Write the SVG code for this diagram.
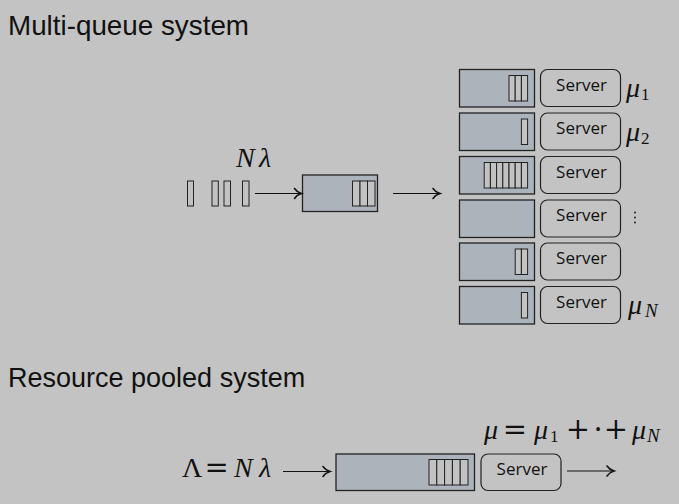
<svg xmlns="http://www.w3.org/2000/svg" width="679" height="504" viewBox="0 0 679 504">
<style>
.title{font-family:"Liberation Sans",Arial,sans-serif;font-size:27px;fill:#111}
.q{fill:#adb3ba;stroke:#222;stroke-width:1.3}
.p{fill:#c2c2c2;stroke:#222;stroke-width:1}
.srv{fill:none;stroke:#222;stroke-width:1.2}
.st{font-family:"Open Sans","Noto Sans",sans-serif;font-size:17px;fill:#111;text-anchor:middle}
.m{font-family:"Liberation Serif","Times New Roman",serif;font-size:28px;fill:#111}
.mi{font-style:italic}
.op{font-family:"DejaVu Serif",serif;font-size:29px;text-anchor:middle;font-style:normal}
.sub{font-size:17px}
.subN{font-size:19px;font-style:italic}
.conn line{stroke:#111;stroke-width:1.2;marker-end:url(#to)}
</style>
<defs>
<marker id="to" markerUnits="userSpaceOnUse" markerWidth="16" markerHeight="16" refX="0" refY="0" viewBox="-8 -8 16 16" orient="auto" overflow="visible">
<path d="M-7,-5 C-5.2,-2.2 -2.4,-0.7 0,0 C-2.4,0.7 -5.2,2.2 -7,5" fill="none" stroke="#111" stroke-width="1.5" stroke-linecap="round"/>
</marker>
</defs>
<rect width="679" height="504" fill="#c3c3c3"/>
<text class="title" x="8" y="35" style="font-size:27.8px">Multi-queue system</text>
<text class="title" x="8" y="387">Resource pooled system</text>

<g id="arrivals">
<rect class="p" x="187.5" y="181" width="6" height="25"/>
<rect class="p" x="212" y="181" width="6.3" height="25"/>
<rect class="p" x="224" y="181" width="6.5" height="25"/>
<rect class="p" x="242.5" y="181" width="6.5" height="25"/>
</g>
<text class="m mi" x="236" y="167">N<tspan x="259">λ</tspan></text>

<g id="dispatcher">
<rect class="q" x="302.5" y="175" width="75" height="36.5"/>
<rect class="p" x="352.5" y="181" width="7.5" height="25"/>
<rect class="p" x="360" y="181" width="7.5" height="25"/>
<rect class="p" x="367.5" y="181" width="7.5" height="25"/>
</g>

<g id="queue1">
<rect class="q" x="459.5" y="69.5" width="75" height="37.5"/>
<rect class="p" x="509" y="75.5" width="6.2" height="25.5"/>
<rect class="p" x="515.2" y="75.5" width="6.2" height="25.5"/>
<rect class="p" x="521.4" y="75.5" width="6.2" height="25.5"/>
</g>
<g id="server1"><rect class="srv" x="540.5" y="69.5" width="80" height="37" rx="7"/><text class="st" x="581.5" y="90.5">Server</text></g>

<g id="queue2">
<rect class="q" x="459.5" y="113" width="75" height="37.5"/>
<rect class="p" x="521.4" y="119" width="6.2" height="25.5"/>
</g>
<g id="server2"><rect class="srv" x="540.5" y="113" width="80" height="37" rx="7"/><text class="st" x="581.5" y="134">Server</text></g>

<g id="queue3">
<rect class="q" x="459.5" y="156.5" width="75" height="37.5"/>
<rect class="p" x="484.2" y="162.5" width="6.2" height="25.5"/>
<rect class="p" x="490.4" y="162.5" width="6.2" height="25.5"/>
<rect class="p" x="496.6" y="162.5" width="6.2" height="25.5"/>
<rect class="p" x="502.8" y="162.5" width="6.2" height="25.5"/>
<rect class="p" x="509" y="162.5" width="6.2" height="25.5"/>
<rect class="p" x="515.2" y="162.5" width="6.2" height="25.5"/>
<rect class="p" x="521.4" y="162.5" width="6.2" height="25.5"/>
</g>
<g id="server3"><rect class="srv" x="540.5" y="156.5" width="80" height="37" rx="7"/><text class="st" x="581.5" y="177.5">Server</text></g>

<g id="queue4">
<rect class="q" x="459.5" y="200" width="75" height="37.5"/>
</g>
<g id="server4"><rect class="srv" x="540.5" y="200" width="80" height="37" rx="7"/><text class="st" x="581.5" y="221">Server</text></g>

<g id="queue5">
<rect class="q" x="459.5" y="243" width="75" height="37.5"/>
<rect class="p" x="515.2" y="249" width="6.2" height="25.5"/>
<rect class="p" x="521.4" y="249" width="6.2" height="25.5"/>
</g>
<g id="server5"><rect class="srv" x="540.5" y="243" width="80" height="37" rx="7"/><text class="st" x="581.5" y="264">Server</text></g>

<g id="queue6">
<rect class="q" x="459.5" y="286.5" width="75" height="37.5"/>
<rect class="p" x="521.4" y="292.5" width="6.2" height="25.5"/>
</g>
<g id="server6"><rect class="srv" x="540.5" y="286.5" width="80" height="37" rx="7"/><text class="st" x="581.5" y="307.5">Server</text></g>

<text class="m" x="626" y="97"><tspan class="mi">μ</tspan><tspan class="sub" x="641" y="100">1</tspan></text>
<text class="m" x="626" y="141"><tspan class="mi">μ</tspan><tspan class="sub" x="641" y="144">2</tspan></text>
<text class="m" x="628" y="314"><tspan class="mi">μ</tspan><tspan class="subN" x="645" y="317">N</tspan></text>
<g id="vdots" fill="#111"><circle cx="635" cy="212.5" r="0.9"/><circle cx="635" cy="217.5" r="0.9"/><circle cx="635" cy="222.5" r="0.9"/></g>

<g id="pooledQueue">
<rect class="q" x="336" y="454" width="138.5" height="36.5"/>
<rect class="p" x="429" y="459.5" width="7.8" height="25.5"/>
<rect class="p" x="436.8" y="459.5" width="7.8" height="25.5"/>
<rect class="p" x="444.6" y="459.5" width="7.8" height="25.5"/>
<rect class="p" x="452.4" y="459.5" width="7.8" height="25.5"/>
<rect class="p" x="460.2" y="459.5" width="7.8" height="25.5"/>
</g>
<g id="pooledServer"><rect class="srv" x="481" y="454" width="80" height="36.5" rx="7"/><text class="st" x="522" y="475">Server</text></g>

<text class="m" x="182" y="477">Λ<tspan class="op" x="216.7">=</tspan><tspan class="mi" x="234">N</tspan><tspan class="mi" x="259">λ</tspan></text>
<text class="m" x="484" y="439"><tspan class="mi">μ</tspan><tspan class="op" x="515">=</tspan><tspan class="mi" x="534">μ</tspan><tspan class="sub" x="550" y="442">1</tspan><tspan class="op" x="578" y="439">+</tspan><tspan class="op" x="598">·</tspan><tspan class="op" x="616">+</tspan><tspan class="mi" x="632">μ</tspan><tspan class="subN" x="647" y="442">N</tspan></text>

<g class="conn" id="connectors">
<line x1="255" y1="193.5" x2="301.5" y2="193.5"/>
<line x1="393" y1="193.5" x2="440" y2="193.5"/>
<line x1="283" y1="471.5" x2="330" y2="471.5"/>
<line x1="567" y1="471" x2="614" y2="471"/>
</g>
</svg>
